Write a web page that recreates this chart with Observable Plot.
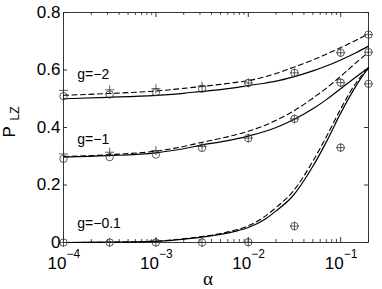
<!DOCTYPE html>
<html>
<head>
<meta charset="utf-8">
<script src="https://cdn.jsdelivr.net/npm/d3@7"></script>
<script src="https://cdn.jsdelivr.net/npm/@observablehq/plot@0.6"></script>
<style>
  html, body { margin: 0; padding: 0; background: #fff; }
  #chart svg { display: block; }
</style>
</head>
<body>
<div id="chart"></div>
<script>
// Simulation points (alpha values)
const alphaPts = [0.0001, 0.000316, 0.001, 0.00316, 0.01, 0.0316, 0.1, 0.2];
const circG2  = [0.509, 0.515, 0.523, 0.535, 0.555, 0.590, 0.660, 0.723];
const plusG2  = [0.529, 0.531, 0.535, 0.544, 0.555, 0.590, 0.660, 0.723];
const circG1  = [0.291, 0.297, 0.306, 0.329, 0.363, 0.430, 0.556, 0.662];
const plusG1  = [0.308, 0.314, 0.320, 0.334, 0.363, 0.430, 0.556, 0.662];
const circG01 = [0.000, 0.000, 0.000, 0.000, 0.001, 0.057, 0.330, 0.552];
const plusG01 = [0.000, 0.000, 0.000, 0.000, 0.001, 0.057, 0.330, 0.552];

// Theory curves
const alphaCurve = [0.0001, 0.0003, 0.001, 0.002, 0.003, 0.005, 0.007, 0.01, 0.015, 0.02, 0.03, 0.05, 0.07, 0.1, 0.15, 0.2];
const solidG2  = [0.500, 0.505, 0.512, 0.519, 0.525, 0.532, 0.538, 0.546, 0.554, 0.561, 0.575, 0.597, 0.614, 0.635, 0.662, 0.683];
const dashG2   = [0.512, 0.518, 0.527, 0.536, 0.542, 0.550, 0.556, 0.563, 0.576, 0.588, 0.608, 0.635, 0.655, 0.678, 0.705, 0.726];
const solidG1  = [0.297, 0.302, 0.312, 0.326, 0.338, 0.350, 0.359, 0.370, 0.386, 0.400, 0.425, 0.465, 0.497, 0.535, 0.578, 0.608];
const dashG1   = [0.299, 0.305, 0.318, 0.334, 0.347, 0.362, 0.373, 0.387, 0.407, 0.425, 0.455, 0.502, 0.537, 0.578, 0.628, 0.662];
const solidG01 = [0.000, 0.001, 0.004, 0.012, 0.018, 0.028, 0.038, 0.052, 0.080, 0.110, 0.160, 0.265, 0.350, 0.450, 0.550, 0.608];
const dashG01  = [0.000, 0.001, 0.005, 0.013, 0.020, 0.031, 0.042, 0.058, 0.090, 0.122, 0.175, 0.283, 0.368, 0.465, 0.560, 0.608];

// Labels
const gLabels = ["g=\u22122", "g=\u22121", "g=\u22120.1"];
const gLabelAlpha = [0.000141, 0.000141, 0.000141];
const gLabelP = [0.567, 0.344, 0.052];

// Ticks
const yTicks = [0, 0.2, 0.4, 0.6, 0.8];
const yTickLabels = ["0", "0.2", "0.4", "0.6", "0.8"];
const xTicks = [0.0001, 0.001, 0.01, 0.1];
const xTickExp = ["\u22124", "\u22123", "\u22122", "\u22121"];

const xMinor = [];
for (const e of [-4, -3, -2, -1]) for (let k = 2; k <= 9; k++) {
  const v = k * Math.pow(10, e);
  if (v <= 0.2 + 1e-9) xMinor.push(v);
}

const W = 382, H = 289, mL = 63, mR = 14, mT = 12, mB = 47;
const innerW = W - mL - mR, innerH = H - mT - mB;

const toPts = (xs, ys) => xs.map((a, i) => ({a, p: ys[i]}));
const solids = [solidG2, solidG1, solidG01].flatMap((ys, k) => toPts(alphaCurve, ys).map(d => ({...d, s: k})));
const dashes = [dashG2, dashG1, dashG01].flatMap((ys, k) => toPts(alphaCurve, ys).map(d => ({...d, s: k})));
const circles = [circG2, circG1, circG01].flatMap(ys => toPts(alphaPts, ys));
const pluses = [plusG2, plusG1, plusG01].flatMap(ys => toPts(alphaPts, ys));

const font = "'Liberation Sans', Arial, Helvetica, sans-serif";
const ink = "#000";
const markInk = "#333";

const plot = Plot.plot({
  width: W, height: H,
  marginLeft: mL, marginRight: mR, marginTop: mT, marginBottom: mB,
  style: {fontFamily: font, background: "#fff", color: "#000", overflow: "visible"},
  x: {type: "log", domain: [0.0001, 0.2], axis: null},
  y: {domain: [0, 0.8], axis: null},
  marks: [
    // inward ticks
    Plot.tickY(yTicks, {y: d => d, insetRight: innerW - 4, stroke: ink, strokeWidth: 0.8}),
    Plot.tickY(yTicks, {y: d => d, insetLeft: innerW - 4, stroke: ink, strokeWidth: 0.8}),
    Plot.tickX(xTicks, {x: d => d, insetTop: innerH - 5, stroke: ink, strokeWidth: 0.8}),
    Plot.tickX(xTicks, {x: d => d, insetBottom: innerH - 5, stroke: ink, strokeWidth: 0.8}),
    Plot.tickX(xMinor, {x: d => d, insetTop: innerH - 3, stroke: ink, strokeWidth: 0.7}),
    Plot.tickX(xMinor, {x: d => d, insetBottom: innerH - 3, stroke: ink, strokeWidth: 0.7}),
    Plot.frame({stroke: "#222", strokeWidth: 0.9}),
    // curves
    Plot.line(solids, {x: "a", y: "p", z: "s", stroke: ink, strokeWidth: 1.2, curve: "monotone-x"}),
    Plot.line(dashes, {x: "a", y: "p", z: "s", stroke: ink, strokeWidth: 1.1, strokeDasharray: "5,3.5", curve: "monotone-x"}),
    // markers
    Plot.dot(circles, {x: "a", y: "p", r: 3.7, stroke: markInk, strokeWidth: 0.8, fill: "none"}),
    Plot.dot(pluses, {x: "a", y: "p", symbol: "plus", r: 3, stroke: markInk, strokeWidth: 0.8}),
    // g labels
    Plot.text(gLabels, {x: (d, i) => gLabelAlpha[i], y: (d, i) => gLabelP[i], text: d => d, textAnchor: "start", lineAnchor: "bottom", fontSize: 14, fill: ink}),
    // y tick labels
    Plot.text(yTicks, {y: d => d, frameAnchor: "left", text: (d, i) => yTickLabels[i], textAnchor: "end", dx: -3, fontSize: 17, fill: ink}),
    // x tick labels: base and exponent
    Plot.text(xTicks, {x: d => d, frameAnchor: "bottom", text: () => "10", textAnchor: "end", lineAnchor: "top", dx: 3, dy: 14, fontSize: 17, fill: ink}),
    Plot.text(xTicks, {x: d => d, frameAnchor: "bottom", text: (d, i) => xTickExp[i], textAnchor: "start", lineAnchor: "top", dx: 3, dy: 7, fontSize: 12, fill: ink}),
    // axis labels
    Plot.text(["\u03b1"], {frameAnchor: "bottom", text: d => d, dx: -8, dy: 36, lineAnchor: "middle", fontSize: 19, fontFamily: "'Liberation Serif', 'DejaVu Serif', serif", fill: ink}),
    Plot.text(["P"], {frameAnchor: "left", text: d => d, rotate: -90, dx: -54, dy: 10, lineAnchor: "middle", fontSize: 17, fill: ink}),
    Plot.text(["LZ"], {frameAnchor: "left", text: d => d, rotate: -90, dx: -48, dy: -7, lineAnchor: "middle", fontSize: 12, fill: ink})
  ]
});
document.getElementById("chart").appendChild(plot);
</script>
</body>
</html>
